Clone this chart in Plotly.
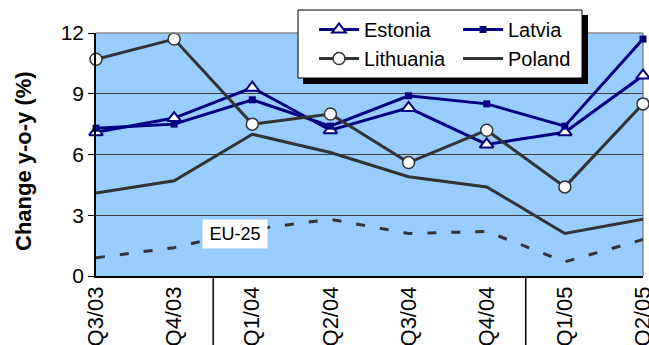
import plotly.graph_objects as go

# Quarterly change, year-on-year (%)
quarters = ["Q3/03", "Q4/03", "Q1/04", "Q2/04", "Q3/04", "Q4/04", "Q1/05", "Q2/05"]
estonia = [7.1, 7.8, 9.3, 7.2, 8.3, 6.5, 7.1, 9.9]
latvia = [7.3, 7.5, 8.7, 7.4, 8.9, 8.5, 7.4, 11.7]
lithuania = [10.7, 11.7, 7.5, 8.0, 5.6, 7.2, 4.4, 8.5]
poland = [4.1, 4.7, 7.0, 6.1, 4.9, 4.4, 2.1, 2.8]
eu25 = [0.9, 1.4, 2.3, 2.8, 2.1, 2.2, 0.7, 1.8]
y_ticks = [0, 3, 6, 9, 12]

NAVY = "#000080"
GREY = "#333333"
FONT = "Arial, Liberation Sans, sans-serif"

W, H = 649, 345
ML, MR, MT, MB = 96, 6, 33, 69
PW, PH = W - ML - MR, H - MT - MB


def px_x(p):
    return (p - ML) / PW


def px_y(p):
    return (H - MB - p) / PH


fig = go.Figure()
fig.add_trace(go.Scatter(
    x=quarters, y=estonia, name="Estonia", legend="legend", legendgroup="a",
    mode="lines+markers", line=dict(color=NAVY, width=3),
    marker=dict(symbol="triangle-up", size=12, color="white",
                line=dict(color=NAVY, width=2)),
    cliponaxis=False))
fig.add_trace(go.Scatter(
    x=quarters, y=latvia, name="Latvia", legend="legend2", legendgroup="b",
    mode="lines+markers", line=dict(color=NAVY, width=3),
    marker=dict(symbol="square", size=7, color=NAVY),
    cliponaxis=False))
fig.add_trace(go.Scatter(
    x=quarters, y=lithuania, name="Lithuania", legend="legend", legendgroup="c",
    mode="lines+markers", line=dict(color=GREY, width=3),
    marker=dict(symbol="circle", size=12, color="white",
                line=dict(color=GREY, width=1.5)),
    cliponaxis=False))
fig.add_trace(go.Scatter(
    x=quarters, y=poland, name="Poland", legend="legend2", legendgroup="d",
    mode="lines", line=dict(color=GREY, width=3),
    cliponaxis=False))
fig.add_trace(go.Scatter(
    x=quarters, y=eu25, name="EU-25", showlegend=False,
    mode="lines", line=dict(color=GREY, width=3, dash="9px,15px"),
    cliponaxis=False))

shapes = [
    # right and top border of the plot area
    dict(type="line", xref="paper", yref="paper", x0=1, x1=1, y0=0, y1=1,
         line=dict(color="#8a8a8a", width=1.5), layer="below"),
    dict(type="line", xref="paper", yref="paper", x0=0, x1=1, y0=1, y1=1,
         line=dict(color="#8a8a8a", width=1.5), layer="above"),
    # year separators under the category axis
    dict(type="line", xref="x", yref="paper", x0=1.5, x1=1.5, y0=0, y1=-0.32,
         line=dict(color="black", width=1.5)),
    dict(type="line", xref="x", yref="paper", x0=5.5, x1=5.5, y0=0, y1=-0.32,
         line=dict(color="black", width=1.5)),
    # legend frame with drop shadow
    dict(type="rect", xref="paper", yref="paper",
         x0=px_x(303), x1=px_x(588), y0=px_y(84), y1=px_y(15),
         fillcolor="black", line=dict(width=0), layer="above"),
    dict(type="rect", xref="paper", yref="paper",
         x0=px_x(298), x1=px_x(582), y0=px_y(78), y1=px_y(10),
         fillcolor="white", line=dict(color="black", width=1), layer="above"),
]

legend_style = dict(
    bgcolor="rgba(0,0,0,0)", borderwidth=0,
    font=dict(family=FONT, size=20, color="black"),
    yanchor="top", xanchor="left", orientation="v", tracegroupgap=0,
    itemwidth=40,
)

fig.update_layout(
    width=W, height=H,
    margin=dict(l=ML, r=MR, t=MT, b=MB, autoexpand=False),
    paper_bgcolor="white",
    plot_bgcolor="#99CCFF",
    font=dict(family=FONT, color="black"),
    shapes=shapes,
    legend=dict(x=px_x(314), y=px_y(10), **legend_style),
    legend2=dict(x=px_x(458), y=px_y(10), **legend_style),
    xaxis=dict(
        type="category", range=[0, 7], showgrid=False, automargin=False,
        showline=True, linecolor="black", linewidth=1.5,
        ticks="", tickangle=-90,
        tickfont=dict(family=FONT, size=22, color="black"),
    ),
    yaxis=dict(
        range=[0, 12], tickvals=y_ticks, showgrid=True, automargin=False,
        gridcolor="#3c3c3c", gridwidth=1, zeroline=False,
        showline=True, linecolor="black", linewidth=1.5,
        ticks="outside", ticklen=6, tickcolor="black",
        tickfont=dict(family=FONT, size=21, color="black"),
    ),
    annotations=[
        dict(text="<b>Change y-o-y (%)</b>", textangle=-90,
             xref="paper", yref="paper", x=px_x(23), y=px_y(161),
             xanchor="center", yanchor="middle", showarrow=False,
             font=dict(family=FONT, size=22, color="black")),
        dict(text="EU-25", xref="x", yref="y", x=1.78, y=2.06,
             xanchor="center", yanchor="middle", showarrow=False,
             bgcolor="white", width=60, height=24, borderpad=2,
             font=dict(family=FONT, size=18, color="black")),
    ],
)

fig.write_html("out.html")
